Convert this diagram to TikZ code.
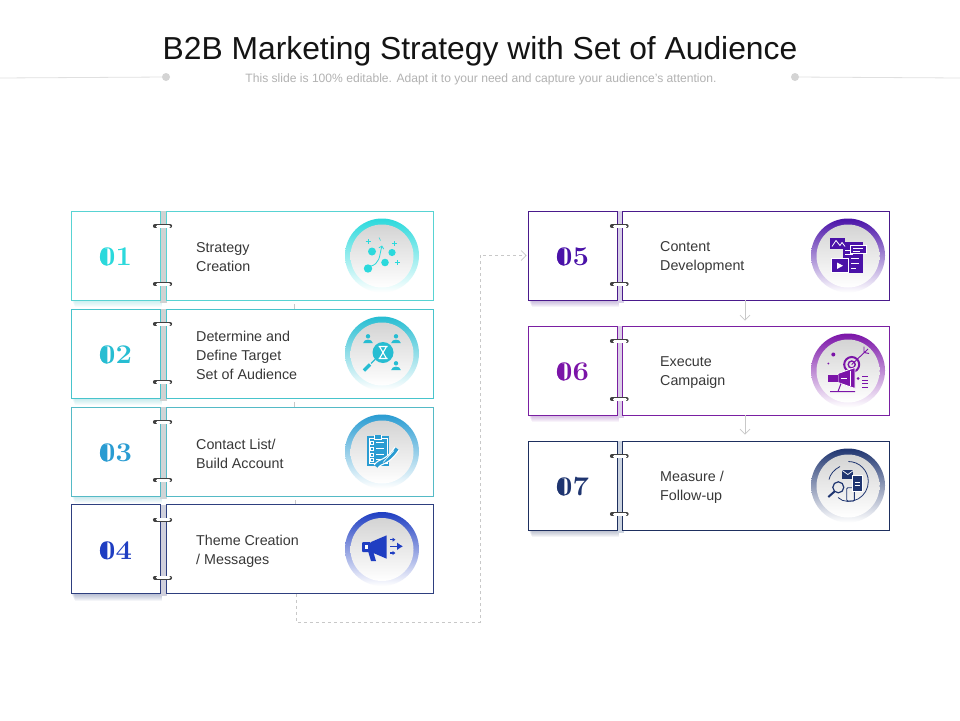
\documentclass[tikz,border=0pt]{standalone}
\usepackage{fontspec}
\setsansfont{Liberation Sans}
\usepackage{tikz}
\usetikzlibrary{arrows.meta,calc}
\definecolor{bd1}{HTML}{58D3D3}\definecolor{tone1}{HTML}{2BD9DC}\definecolor{spine1}{HTML}{D0D2D2}
\definecolor{bd2}{HTML}{48C4CC}\definecolor{tone2}{HTML}{27BDD2}\definecolor{spine2}{HTML}{D0D2D2}
\definecolor{bd3}{HTML}{55BAC6}\definecolor{tone3}{HTML}{2A9CD2}\definecolor{spine3}{HTML}{D0D4D6}
\definecolor{bd4}{HTML}{2E3F7F}\definecolor{tone4}{HTML}{1F3EC2}\definecolor{spine4}{HTML}{D0D0DC}
\definecolor{bd5}{HTML}{4A1A8C}\definecolor{tone5}{HTML}{4A12A8}\definecolor{spine5}{HTML}{D8D0E8}
\definecolor{bd6}{HTML}{7A1FA2}\definecolor{tone6}{HTML}{7B14A8}\definecolor{spine6}{HTML}{DCD0E8}
\definecolor{bd7}{HTML}{1E2F5F}\definecolor{tone7}{HTML}{1F3570}\definecolor{spine7}{HTML}{CCD4E0}
\definecolor{flowgray}{HTML}{C8C8C8}
\newcommand{\ringsize}{74pt}
\tikzstyle{numbox}=[draw, fill=white, line width=0.8pt, inner sep=0, minimum width=89pt, minimum height=89pt,
                    text height=20.5pt, text depth=0pt, font=\fontsize{27}{27}\selectfont\bfseries]
\tikzstyle{mainbox}=[draw, fill=white, line width=0.8pt, inner sep=0, minimum width=267pt, minimum height=89pt]
\tikzstyle{rowtext}=[anchor=west, align=left, inner sep=0, text=black!78,
                     font=\sffamily\fontsize{14.3}{19}\selectfont]
\tikzstyle{ring}=[circle, inner sep=0, minimum size=\ringsize]
\tikzstyle{disc}=[circle, inner sep=0, minimum size=63pt, top color=black!17, bottom color=white]
\tikzstyle{flow}=[draw=flowgray, line width=0.7pt]
\tikzstyle{ruledot}=[circle, fill=black!17, inner sep=0, minimum size=8pt]
\tikzset{pics/person/.style={code={
    \fill (0,-3.2) circle (2.2);
    \fill (-4.8,3.5) .. controls (-4,-1) and (4,-1) .. (4.8,3.5) -- cycle;}}}

\begin{document}
\begin{tikzpicture}[x=1pt, y=-1pt]
    \path[fill=white, use as bounding box] (0,0) rectangle (960,720);

    % Heading
    \node[inner sep=0, text=black!92, font=\sffamily\fontsize{31.8}{32}\selectfont] (title) at (480,51) {B2B Marketing Strategy with Set of Audience};
    \node[inner sep=0, text=black!30, font=\sffamily\fontsize{12.1}{12}\selectfont] (subtitle) at (481,79) {This slide is 100\% editable. Adapt it to your need and capture your audience's attention.};
    \node[ruledot] (dotL) at (166,77) {};
    \node[ruledot] (dotR) at (795,77) {};
    \coordinate (edgeL) at (0,78);
    \coordinate (edgeR) at (960,78);
    \draw[black!12, line width=0.8pt] (edgeL) -- (dotL);
    \draw[black!12, line width=0.8pt] (dotR) -- (edgeR);

    % Rows
    \foreach \n/\nx/\mx/\rx/\tx/\cy/\txt in {
        1/115.5/299.5/382/196/255.5/{Strategy\\Creation},
        2/115.5/299.5/382/196/353.5/{Determine and\\Define Target\\Set of Audience},
        3/115.5/299.5/382/196/451.5/{Contact List/\\Build Account},
        4/115.5/299.5/382/196/549/{Theme Creation\\/ Messages},
        5/572.5/756/848/660/255.5/{Content\\Development},
        6/572.5/756/848/660/370.5/{Execute\\Campaign},
        7/572.5/756/848/660/485.5/{Measure /\\Follow-up}} {
        \foreach \s in {1,...,7}
            \fill[bd\n, opacity=0.05] (\nx-44.5+\s/2,\cy) rectangle (\nx+46,\cy+44.5+\s);
        \fill[spine\n] (\nx+44.5,\cy-44.5) rectangle (\nx+51,\cy+47);
        \node[numbox, draw=bd\n, text=tone\n] (num\n) at (\nx,\cy) {\scalebox{1.08}[1]{0\n}};
        \fill[tone\n] ($(num\n.center)+(-8.2,10.3)$) arc[start angle=90, end angle=270, x radius=7.4, y radius=8.8];
        \node[mainbox, draw=bd\n] (main\n) at (\mx,\cy) {};
        \node[rowtext] (label\n) at (\tx,\cy+2) {\txt};
        \node[ring, top color=tone\n, bottom color=white] (ring\n) at (\rx,\cy) {};
        \node[disc] (disc\n) at ($(ring\n.center)+(0,0.5)$) {};
        \foreach \off in {-29.5,28.5} {
            \draw[black!75, line width=4pt, line cap=round] ($(num\n.east)+(-5.5,\off)$) -- ($(main\n.west)+(4.5,\off)$);
            \draw[white, line width=3pt, line cap=round] ($(num\n.east)+(-3,\off)$) -- ($(main\n.west)+(3.5,\off)$);
        }
    }

    % Connectors
    \foreach \a/\b/\tickx/\ticky in {1/2/294/304, 2/3/294/402, 3/4/295/500} {
        \coordinate (tick\a) at (\tickx,\ticky);
        \draw[flow] (tick\a) -- (tick\a |- main\b.north);
    }
    \coordinate (dropA) at (296,622);
    \coordinate (dropB) at (480,622);
    \draw[flow, dashed, -{Straight Barb[length=5pt, width=10pt]}, shorten >=1pt]
        (main4.south -| dropA) -- (dropA) -- (dropB) -- (dropB |- num5.west) -- (num5.west);
    \coordinate (downArrow) at (745,310);
    \draw[flow, -{Straight Barb[length=5pt, width=10pt]}, shorten >=5pt] (main5.south -| downArrow) -- (main6.north -| downArrow);
    \draw[flow, -{Straight Barb[length=5pt, width=10pt]}, shorten >=6pt] (main6.south -| downArrow) -- (main7.north -| downArrow);

    % Icon 1
    \begin{scope}[shift={(ring1.center)}, color=tone1]
        \foreach \px/\py/\pr in {-10/-4/4, 10/-3/3.6, 3/7/3.8, -14/13/4.2} \fill (\px,\py) circle (\pr);
        \foreach \px/\py in {-14/-14, 12/-12, 15/7} \draw[line width=0.8pt] (\px-2.5,\py) -- (\px+2.5,\py) (\px,\py-2.5) -- (\px,\py+2.5);
        \draw[line width=0.8pt, -{Straight Barb[length=2.5pt, width=5pt]}] (-12,11) .. controls (-2,8) and (-3,2) .. (0,-10);
        \draw[line width=0.6pt] (-3,-18) -- (-1.5,-15);
    \end{scope}

    % Icon 2
    \begin{scope}[shift={(ring2.center)}, color=tone2]
        \fill (1,-1) circle (10.5);
        \draw[white, line width=1.1pt] (-3.5,-7) -- (5.5,-7) (-3.5,5) -- (5.5,5)
            (-2.5,-7) -- (4.5,5) (4.5,-7) -- (-2.5,5);
        \pic at (-14,-14) {person};
        \pic at (14,-14) {person};
        \pic at (14,13) {person};
        \draw[line width=3.5pt] (-18,17) -- (-12,11);
        \draw[line width=1.2pt] (-11,10) -- (-7,6);
    \end{scope}

    % Icon 3
    \begin{scope}[shift={(ring3.center)}, color=tone3]
        \fill (-15,-16) rectangle (7,14);
        \draw[white, line width=0.7pt] (-13,-13) rectangle (5,12);
        \fill[white] (-8,-17) rectangle (0,-12);
        \fill (-7,-17) rectangle (-1,-13);
        \foreach \py in {-9,-3,3,8} {
            \draw[white, line width=0.7pt] (-12,\py-1.5) rectangle (-9,\py+1.5);
            \draw[white, line width=0.7pt] (-6,\py) -- (2,\py);
        }
        \draw[white, line width=6pt] (-6,15) .. controls (-1,8) and (4,13) .. (15,-3);
        \draw[line width=3.6pt] (-6,15) .. controls (-1,8) and (4,13) .. (15,-3);
        \draw[white, line width=0.6pt] (1,11) -- (12,-1);
    \end{scope}

    % Icon 4
    \begin{scope}[shift={(ring4.center)}, color=tone4]
        \fill[rounded corners=1pt] (-20,-7) rectangle (-11,3);
        \fill (-11,-7) -- (4.7,-13.7) -- (4.7,9.7) -- (-11,3) -- cycle;
        \fill (-14,2) -- (-9,2) -- (-6,12) -- (-11,12) -- cycle;
        \fill[white] (-17,-4) rectangle (-14.5,0);
        \foreach \py in {-9.3,4} \draw[line width=1.2pt, -{Latex[length=3pt, width=4.5pt]}] (8,\py) -- (13.5,\py);
        \draw[line width=1.6pt, -{Latex[length=6pt, width=8pt]}] (8,-2.7) -- (21,-2.7);
    \end{scope}

    % Icon 5
    \begin{scope}[shift={(ring5.center)}, color=tone5]
        \fill (-5,-14) rectangle (15,17);
        \fill (-18,-18) rectangle (-3,-7);
        \draw[white, line width=0.8pt] (-16,-9) -- (-12,-15) -- (-8,-10) -- (-6,-13) -- (-3,-9);
        \draw[white, line width=0.8pt] (-3,-5) -- (2,-5) (-3,-1) -- (5,-1) (3,3) -- (11,3) (3,8) -- (11,8) (3,13) -- (8,13);
        \filldraw[draw=white, line width=0.8pt] (2,-10) rectangle (18,-2);
        \draw[white, line width=0.8pt] (5,-7.5) -- (15,-7.5) (5,-4.5) -- (12,-4.5);
        \filldraw[draw=white, line width=0.8pt] (-17,3) rectangle (0,17);
        \fill[white] (-11,7) -- (-11,13.5) -- (-5,10.2) -- cycle;
    \end{scope}

    % Icon 6
    \begin{scope}[shift={(ring6.center)}, color=tone6]
        \fill (-14.7,-16) circle (2);
        \fill (-19.7,-7) circle (1);
        \draw[line width=2pt] (3.7,-6) circle (7.5);
        \draw[line width=1.4pt] (3.7,-6) circle (3.5);
        \draw[line width=0.9pt] (3.7,-6) -- (20,-21.5) (16,-18) -- (21,-17) (16,-18) -- (16,-24);
        \fill[draw=white, line width=0.8pt] (-10,3) -- (7,-3) -- (7,18) -- (-10,12) -- cycle;
        \fill (-20,4) rectangle (-10,11);
        \draw[white, line width=1pt] (-7,7.5) -- (-1,7.5) (2,0) -- (2,15);
        \draw[line width=1pt] (-18,21) -- (7,21) (-7,13) -- (-10,21);
        \draw[line width=0.7pt] (14,6) -- (20,6) (14,9.5) -- (20,9.5) (14,13) -- (20,13) (14,16.5) -- (20,16.5);
        \fill (10,8) circle (1.5);
    \end{scope}

    % Icon 7
    \begin{scope}[shift={(ring7.center)}, color=tone7]
        \draw[line width=0.8pt] (0.3,-24) arc[start angle=-90, end angle=60, radius=20];
        \draw[line width=0.8pt] (10.3,13.3) .. controls (4,17) and (-5,17) .. (-10,12);
        \draw[line width=0.8pt] (-8,-19) .. controls (-14,-16) and (-18,-11) .. (-19,-6);
        \draw[line width=1.2pt] (-9.7,1.8) circle (5.5);
        \draw[line width=2pt] (-13.5,6) -- (-19.7,11.5);
        \draw[line width=0.9pt, rounded corners=1pt] (-1.3,2.2) rectangle (6.3,15.5);
        \fill (-5.7,-15.5) rectangle (5.3,-7);
        \draw[white, line width=0.7pt] (-5.7,-15) -- (-0.2,-11) -- (5.3,-15);
        \filldraw[draw=white, line width=0.6pt] (4.3,-10.5) rectangle (14.3,5.5);
        \draw[white, line width=0.7pt] (6.5,-3) -- (12,-3) (6.5,0) -- (12,0);
    \end{scope}
\end{tikzpicture}
\end{document}
